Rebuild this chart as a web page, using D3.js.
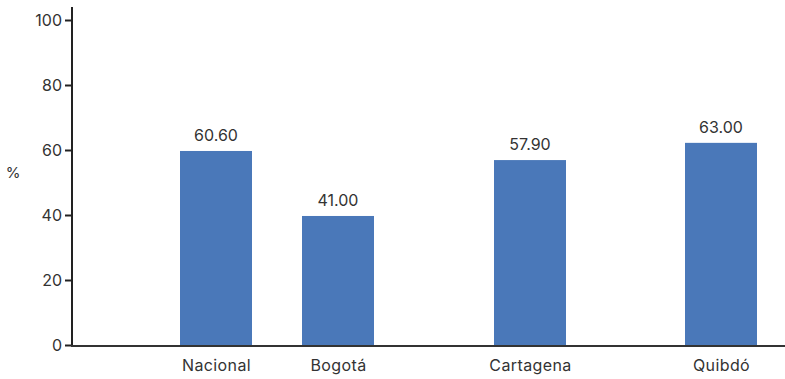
<!DOCTYPE html>
<html>
<head>
<meta charset="utf-8">
<script src="https://cdn.jsdelivr.net/npm/d3@7"></script>
<style>
  body { margin: 0; background: #fff; }
  text { font-family: Inter, sans-serif; fill: #333; }
</style>
</head>
<body>
<script>
// data
var categories = ["Nacional", "Bogotá", "Cartagena", "Quibdó"];
var barValues = [59.7, 39.7, 56.9, 62.2];
var valueLabels = ["60.60", "41.00", "57.90", "63.00"];
var yTicks = [0, 20, 40, 60, 80, 100];

var width = 785,
    height = 379;

var svg = d3.select("body").append("svg")
    .attr("width", width)
    .attr("height", height);

var y = d3.scaleLinear().domain([0, 100]).range([345, 20]);

// bar centres are unevenly spaced in the original
var x = d3.scaleOrdinal().domain(categories).range([216, 338, 530, 721]);
var barW = 72;

// bars
svg.selectAll("rect.bar")
    .data(categories)
  .enter().append("rect")
    .attr("class", "bar")
    .attr("x", function(d) { return x(d) - barW / 2; })
    .attr("y", function(d, i) { return y(barValues[i]); })
    .attr("width", barW)
    .attr("height", function(d, i) { return y(0) - y(barValues[i]); })
    .attr("fill", "#4a78b9");

// value labels
svg.selectAll("text.val")
    .data(categories)
  .enter().append("text")
    .attr("class", "val")
    .attr("x", function(d) { return x(d); })
    .attr("y", function(d, i) { return y(barValues[i]) - 10; })
    .attr("text-anchor", "middle")
    .style("font-size", "16px")
    .text(function(d, i) { return valueLabels[i]; });

// y axis
var yAxis = svg.append("g")
    .attr("transform", "translate(72,0)")
    .call(d3.axisLeft(y).tickValues(yTicks).tickSize(7).tickPadding(3));
yAxis.select(".domain").remove();
yAxis.selectAll(".tick line").attr("stroke", "#222").attr("stroke-width", 2);
yAxis.selectAll(".tick text").style("font-size", "16px").style("font-family", "Inter, sans-serif").attr("fill", "#333");

svg.append("line")
    .attr("x1", 72).attr("x2", 72)
    .attr("y1", 7).attr("y2", 346)
    .attr("stroke", "#222").attr("stroke-width", 2);

// x axis
var xAxis = svg.append("g")
    .attr("transform", "translate(0,346)")
    .call(d3.axisBottom(x).tickSize(0).tickPadding(14));
xAxis.select(".domain").remove();
xAxis.selectAll(".tick text").style("font-size", "16px").style("letter-spacing", "0.4px")
    .style("font-family", "Inter, sans-serif").attr("fill", "#333");

svg.append("line")
    .attr("x1", 71).attr("x2", 785)
    .attr("y1", 346).attr("y2", 346)
    .attr("stroke", "#333").attr("stroke-width", 2);

// unit label
svg.append("text")
    .attr("x", 13)
    .attr("y", 178)
    .attr("text-anchor", "middle")
    .style("font-size", "15px")
    .text("%");
</script>
</body>
</html>
